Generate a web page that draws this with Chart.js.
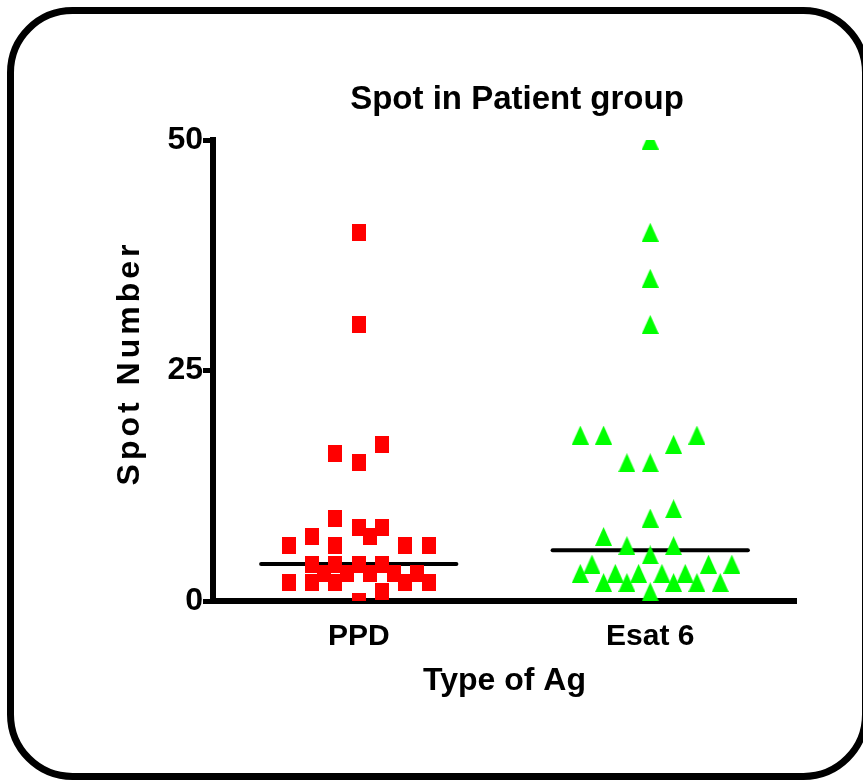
<!DOCTYPE html>
<html>
<head>
<meta charset="utf-8">
<script src="https://cdn.jsdelivr.net/npm/chart.js@4"></script>
<style>
  body { margin: 0; background: #fff; }
  canvas { display: block; }
</style>
</head>
<body>
<canvas id="spots" width="863" height="781"></canvas>
<script>
// values; offsets are the jitter columns (in steps)
var categories = ["PPD", "Esat 6"];
var ppdValues   = [40, 30, 17, 16, 15, 9, 8, 8, 7, 7, 6, 6, 6, 6, 4, 4, 4, 4, 3, 3, 3, 3, 3, 2, 2, 2, 2, 2, 1, 0];
var ppdOffsets  = [ 0,  0,  2, -2,  0, -2, 0, 2, 1, -4, -6, -2, 4, 6, -4, -2, 0, 2, -3, -1, 1, 3, 5, -6, -4, -2, 4, 6, 2, 0];
var esatValues  = [50, 40, 35, 30, 18, 18, 18, 17, 15, 15, 10, 9, 7, 6, 6, 5, 4, 4, 4, 3, 3, 3, 3, 3, 2, 2, 2, 2, 2, 1];
var esatOffsets = [ 0,  0,  0,  0, -6, -4,  4,  2, -2,  0,  2, 0, -4, -2, 2, 0, -5, 5, 7, -6, -3, -1, 1, 3, -4, -2, 2, 4, 6, 0];
var medians = [4, 5.5];
var yTicks = [0, 25, 50];

var jitterStep = 0.04;
var medianHalf = 0.335;
var fontFamily = '"Liberation Sans", Arial, sans-serif';
Chart.defaults.font.family = fontFamily;

function marker(w, h, color, shape) {
    var c = document.createElement('canvas');
    c.width = w;
    c.height = h;
    var g = c.getContext('2d');
    g.fillStyle = color;
    if (shape === 'tri') {
        g.beginPath();
        g.moveTo(w / 2, 0);
        g.lineTo(w, h);
        g.lineTo(0, h);
        g.closePath();
        g.fill();
    } else {
        g.fillRect(0, 0, w, h);
    }
    return c;
}

function points(values, offsets, pos) {
    return values.map(function(v, i) {
        return { x: pos + offsets[i] * jitterStep, y: v };
    });
}

function medianLine(i) {
    return {
        type: 'line',
        data: [{ x: i + 1 - medianHalf, y: medians[i] }, { x: i + 1 + medianHalf, y: medians[i] }],
        borderColor: '#000',
        borderWidth: 4,
        borderCapStyle: 'round',
        pointRadius: 0,
        order: 1
    };
}

var framePlugin = {
    id: 'frame',
    beforeDraw: function(chart) {
        var ctx = chart.ctx;
        ctx.save();
        ctx.fillStyle = '#fff';
        ctx.fillRect(0, 0, chart.width, chart.height);
        ctx.strokeStyle = '#000';
        ctx.lineWidth = 7;
        ctx.beginPath();
        ctx.roundRect(10.5, 10.5, 855, 766, 62);
        ctx.stroke();
        ctx.restore();
    },
    afterDraw: function(chart) {
        var ctx = chart.ctx;
        ctx.save();
        ctx.fillStyle = '#000';
        ctx.font = 'bold 33px ' + fontFamily;
        ctx.textAlign = 'center';
        ctx.textBaseline = 'alphabetic';
        ctx.fillText('Spot in Patient group', 517, 109);
        ctx.translate(130, 365);
        ctx.rotate(-Math.PI / 2);
        ctx.font = 'bold 32px ' + fontFamily;
        ctx.textBaseline = 'middle';
        ctx.letterSpacing = '4px';
        ctx.fillText('Spot Number', 2, 0);
        ctx.restore();
    }
};

var tickFont = function(size) { return { family: fontFamily, size: size, weight: 'bold' }; };

new Chart(document.getElementById('spots').getContext('2d'), {
    type: 'scatter',
    data: {
        datasets: [{
            label: categories[0],
            data: points(ppdValues, ppdOffsets, 1),
            pointStyle: marker(14, 17, '#ff0000', 'rect'),
            pointRadius: 9,
            clip: 0,
            order: 0
        }, {
            label: categories[1],
            data: points(esatValues, esatOffsets, 2),
            pointStyle: marker(17, 19, '#00ff00', 'tri'),
            pointRadius: 9,
            clip: 0,
            order: 0
        }, medianLine(0), medianLine(1)]
    },
    options: {
        responsive: false,
        animation: false,
        layout: { padding: { top: 140, left: 20, right: 67, bottom: 40 } },
        plugins: {
            legend: { display: false },
            tooltip: { enabled: false }
        },
        scales: {
            x: {
                type: 'linear',
                min: 0.5,
                max: 2.5,
                afterBuildTicks: function(s) { s.ticks = [{ value: 1 }, { value: 2 }]; },
                afterFit: function(s) { s.height = 140; },
                grid: { display: false, drawTicks: false },
                border: { display: true, color: '#000', width: 6 },
                ticks: {
                    color: '#000',
                    font: tickFont(30),
                    padding: 18,
                    callback: function(v) { return categories[Math.round(v) - 1]; }
                },
                title: {
                    display: true,
                    text: 'Type of Ag',
                    color: '#000',
                    font: tickFont(32),
                    padding: { top: 0, bottom: 41 }
                }
            },
            y: {
                min: 0,
                max: 50,
                afterBuildTicks: function(s) { s.ticks = yTicks.map(function(v) { return { value: v }; }); },
                afterFit: function(s) { s.width = 193; },
                grid: { display: true, drawOnChartArea: false, drawTicks: true, tickLength: 10, lineWidth: 5, color: '#000' },
                border: { display: true, color: '#000', width: 6 },
                ticks: { color: '#000', font: tickFont(32), padding: 0 }
            }
        }
    },
    plugins: [framePlugin]
});
</script>
</body>
</html>
